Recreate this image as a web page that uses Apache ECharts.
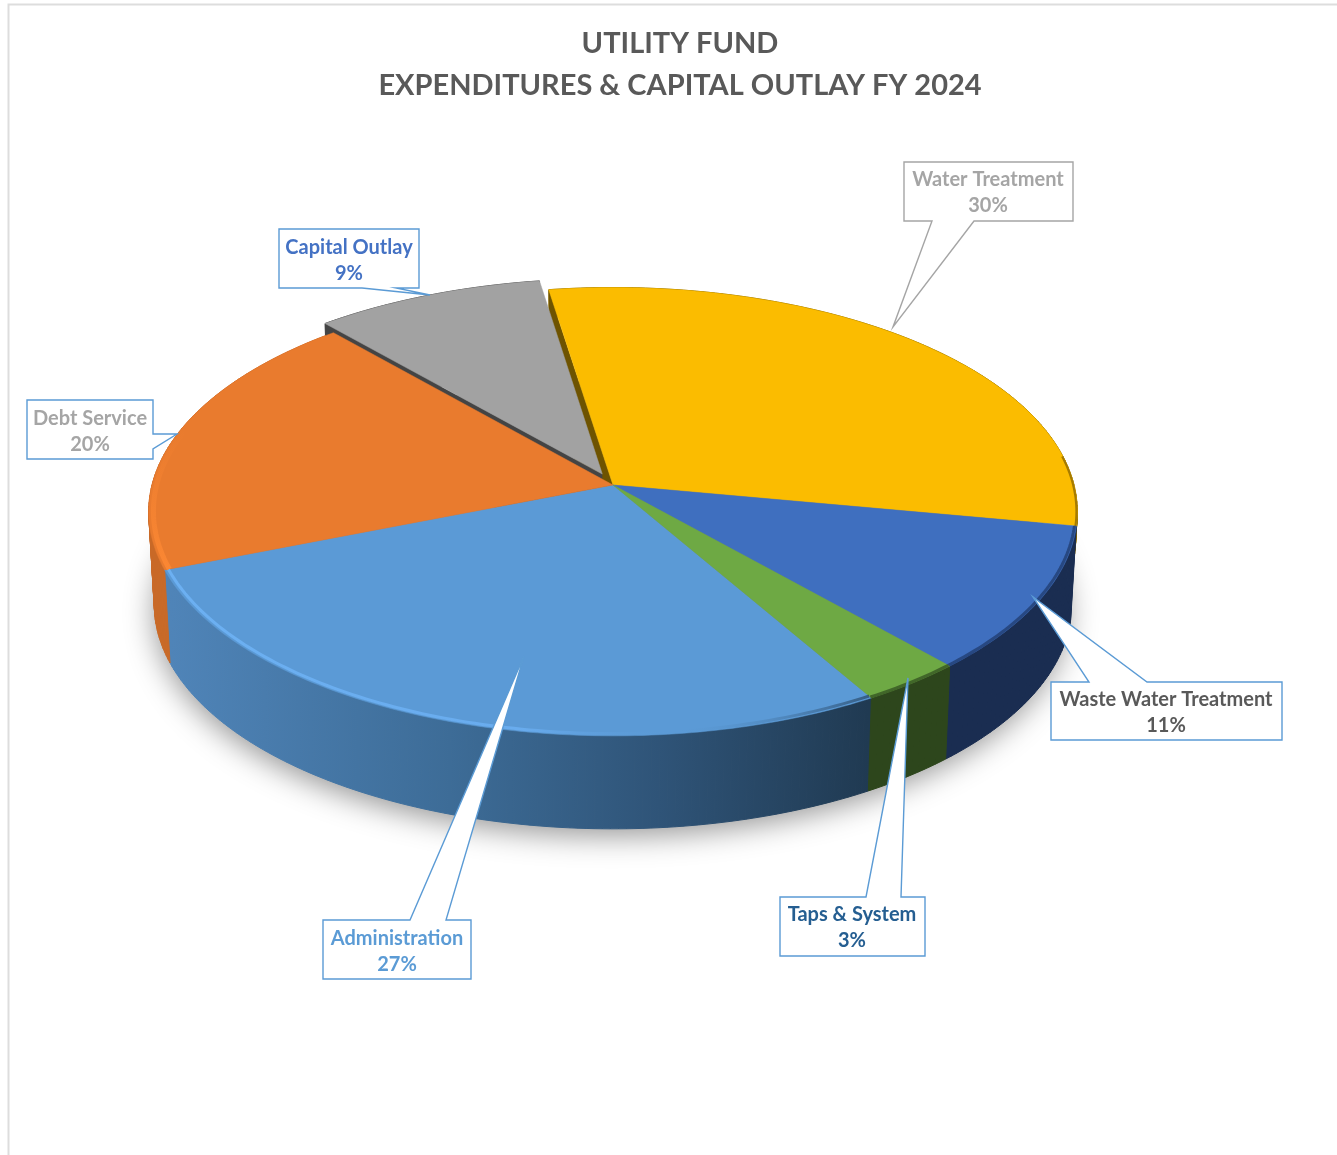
<!DOCTYPE html>
<html>
<head>
<meta charset="utf-8">
<title>Utility Fund</title>
<script src="https://cdn.jsdelivr.net/npm/echarts@6/dist/echarts.min.js"></script>
<style>
    html, body { margin: 0; padding: 0; background: #fff; }
    #chart { width: 1337px; height: 1155px; }
</style>
</head>
<body>
<div id="chart"></div>
<script>
// data (labels round these to whole percents)
var categories = ['Administration', 'Debt Service', 'Capital Outlay', 'Water Treatment', 'Waste Water Treatment', 'Taps & System'];
var percents = [27.4, 19.5, 9.0, 30.4, 10.5, 3.2];
var titleLines = ['UTILITY FUND', 'EXPENDITURES & CAPITAL OUTLAY FY 2024'];

// slice styles, same order as categories
var topColors = ['#5b9ad6', '#e97b2e', '#a2a2a2', '#fbbc00', '#3f6fbf', '#6ea944'];
var wallColors = ['#3a6890', '#c96a28', '#454545', '#8a6900', '#1a2d51', '#2d461c'];
var cutColors = [null, null, '#444444', '#6e5300', null, null];
var explode = [0, 0, 0.055, 0, 0, 0];
var wallScale = [1, 1, 1, 0.3, 1, 1]; // water's wall only shows as a thin edge

// callout boxes: outline points (pointer included), text centre and colours
var calloutBoxes = [
    { pts: [[323, 920], [410, 920], [524, 656], [446, 920], [471, 920], [471, 979], [323, 979]], cx: 397, cy: 952, color: '#5b9bd5' },
    { pts: [[27, 400], [153, 400], [153, 434], [177, 434], [153, 449], [153, 459], [27, 459]], cx: 90, cy: 432, color: '#a5a5a5' },
    { pts: [[279, 229], [419, 229], [419, 288], [396, 288], [430, 295], [362, 288], [279, 288]], cx: 349, cy: 261, color: '#4472c4' },
    { pts: [[904, 162], [1073, 162], [1073, 221], [974, 221], [893, 327], [932, 221], [904, 221]], cx: 988, cy: 193, color: '#a5a5a5', border: '#a5a5a5' },
    { pts: [[1051, 682], [1089, 682], [1033, 597], [1147, 682], [1282, 682], [1282, 740], [1051, 740]], cx: 1166, cy: 713, color: '#595959' },
    { pts: [[780, 897], [866, 897], [908, 678], [901, 897], [925, 897], [925, 956], [780, 956]], cx: 852, cy: 928, color: '#255e91' }
];

// the pie is laid out by a hidden polar system, then tilted on to the page
var POLAR_C = 400, POLAR_R = 100;
var PIE_X = 613, PIE_Y = 485, PIE_A = 461, PIE_B = 221, PERSP = 0.119, DEPTH = 93;

var startPct = [];
var sum = 0;
percents.forEach(function (v) { startPct.push(sum); sum += v; });

function tilt(X, Y, lower) {
    var d = 1 + PERSP * Y;
    var a = lower ? PIE_A * 0.988 : PIE_A;
    return [PIE_X + a * X / d, PIE_Y - PIE_B * Y / d + (lower ? DEPTH : 0)];
}

function renderSlice(params, api) {
    var i = params.dataIndex;
    var from = api.value(0), to = api.value(1);

    // unit point on the circle for a percent value, from the polar axis
    function unit(pct, r) {
        var p = api.coord([r, pct]);
        return [(p[0] - POLAR_C) / POLAR_R, (POLAR_C - p[1]) / POLAR_R];
    }
    var mid = unit((from + to) / 2, 1);
    var ox = mid[0] * explode[i], oy = mid[1] * explode[i];

    function arc(a, b, r, lower) {
        var out = [];
        var n = Math.max(2, Math.ceil((b - a) * 4));
        for (var k = 0; k <= n; k++) {
            var u = unit(a + (b - a) * k / n, r);
            out.push(tilt(u[0] + ox, u[1] + oy, lower));
        }
        return out;
    }
    var apex = tilt(ox, oy, false), apexLow = tilt(ox, oy, true);
    var top = arc(from, to, 1, false);
    var bottom = arc(from, to, 1, true).map(function (p, k) {
        return [top[k][0] + (p[0] - top[k][0]) * wallScale[i], top[k][1] + (p[1] - top[k][1]) * wallScale[i]];
    });
    var children = [];

    // soft shadow under the whole pie
    if (i === 0) {
        children.push({
            type: 'polygon', z2: 1,
            shape: { points: arc(0, sum, 0.995, true) },
            style: { fill: '#777', shadowColor: 'rgba(0,0,0,0.42)', shadowBlur: 30, shadowOffsetY: 8, shadowOffsetX: -2 }
        });
    }

    // outer wall, one strip per step so the silhouette at the sides stays full
    var wallFill = wallColors[i];
    if (i === 0) {
        wallFill = {
            type: 'linear', x: 172, y: 0, x2: 868, y2: 0, global: true,
            colorStops: [
                { offset: 0, color: '#4f84b8' }, { offset: 0.4, color: '#3d6c97' },
                { offset: 0.7, color: '#2f5478' }, { offset: 1, color: '#203a52' }
            ]
        };
    }
    for (var s = 0; s < top.length - 1; s++) {
        children.push({
            type: 'polygon', z2: i === 3 || i === 2 ? 3 : 4,
            shape: { points: [top[s], top[s + 1], bottom[s + 1], bottom[s]] },
            style: { fill: wallFill, stroke: wallFill, lineWidth: 1 }
        });
    }

    // cut face, only where the neighbouring slice moved away
    if (cutColors[i]) {
        var corner = unit(from, 1);
        corner = [corner[0] + ox, corner[1] + oy];
        children.push({
            type: 'polygon', z2: i === 3 ? 5 : 7,
            shape: { points: [apex, tilt(corner[0], corner[1], false), tilt(corner[0], corner[1], true), apexLow] },
            style: { fill: cutColors[i] }
        });
    }

    // top face
    children.push({
        type: 'polygon', z2: i === 2 ? 8 : (i === 3 ? 6 : 9),
        shape: { points: [apex].concat(top) },
        style: { fill: topColors[i], stroke: topColors[i], lineWidth: 0.5 }
    });

    // bevel along the front edge of the top face
    var bevel = null, width = 3, radius = 0.996, bevelFrom = from, bevelTo = to;
    if (i === 0) {
        radius = 0.992;
        bevel = {
            type: 'linear', x: 172, y: 0, x2: 868, y2: 0, global: true,
            colorStops: [
                { offset: 0, color: '#6cb0f2' }, { offset: 0.5, color: '#69acee' },
                { offset: 0.72, color: 'rgba(91,154,214,0)' }, { offset: 1, color: 'rgba(30,55,80,0.6)' }
            ]
        };
    } else if (i === 1) {
        bevel = {
            type: 'linear', x: 0, y: 570, x2: 0, y2: 430, global: true,
            colorStops: [{ offset: 0, color: '#fb8733' }, { offset: 1, color: 'rgba(251,135,51,0)' }]
        };
        width = 5; radius = 0.99; bevelTo = from + 12;
    } else if (i === 3) {
        bevel = 'rgba(110,80,0,0.6)'; width = 2; radius = 0.998; bevelFrom = to - 5;
    } else if (i === 4) {
        bevel = 'rgba(20,40,80,0.55)';
    } else if (i === 5) {
        bevel = 'rgba(30,50,20,0.55)';
    }
    if (bevel) {
        children.push({
            type: 'polyline', z2: 10,
            shape: { points: arc(bevelFrom, bevelTo, radius, false) },
            style: { fill: null, stroke: bevel, lineWidth: width, lineCap: 'butt' }
        });
    }

    return { type: 'group', children: children };
}

var graphics = [
    {
        type: 'polyline', z: 1, silent: true,
        shape: { points: [[8.5, 1155], [8.5, 4.5], [1337, 4.5]] },
        style: { fill: null, stroke: '#dddddd', lineWidth: 2 }
    }
];
calloutBoxes.forEach(function (box, i) {
    graphics.push({
        type: 'polygon', z: 20, silent: true,
        shape: { points: box.pts },
        style: { fill: '#ffffff', stroke: box.border || '#5b9bd5', lineWidth: 1.4 }
    });
    graphics.push({
        type: 'text', z: 21, silent: true,
        style: {
            x: box.cx, y: box.cy,
            text: categories[i] + '\n' + Math.round(percents[i]) + '%',
            textAlign: 'center', textVerticalAlign: 'middle',
            fontFamily: 'Lato', fontWeight: 'bold', fontSize: 20, lineHeight: 26,
            fill: box.color
        }
    });
});

var chart = echarts.init(document.getElementById('chart'));
chart.setOption({
    animation: false,
    backgroundColor: '#ffffff',
    title: {
        text: titleLines.join('\n'),
        left: 675, top: 18, textAlign: 'center',
        textStyle: { fontFamily: 'Lato', fontWeight: 'bold', fontSize: 29, lineHeight: 42, color: '#595959' }
    },
    tooltip: { show: false },
    polar: { center: [POLAR_C, POLAR_C], radius: POLAR_R },
    angleAxis: { show: false, type: 'value', min: 0, max: sum, startAngle: 300.2, clockwise: true },
    radiusAxis: { show: false, type: 'value', min: 0, max: 1 },
    graphic: graphics,
    series: [{
        type: 'custom',
        coordinateSystem: 'polar',
        silent: true,
        renderItem: renderSlice,
        encode: { angle: 0 },
        data: percents.map(function (v, i) {
            return { name: categories[i], value: [startPct[i], startPct[i] + v] };
        })
    }]
});
</script>
</body>
</html>
